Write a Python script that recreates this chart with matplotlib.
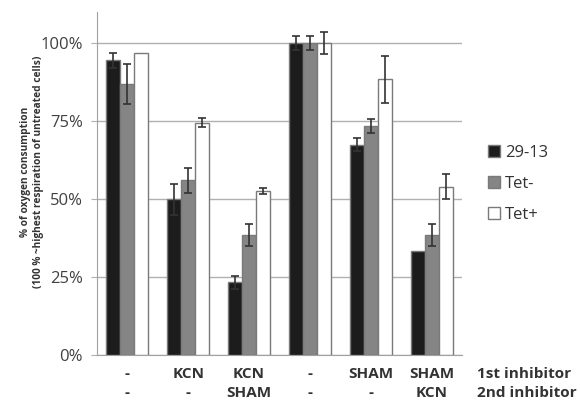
import numpy as np
import matplotlib.pyplot as plt
import matplotlib.transforms as mtransforms

plt.rcParams['font.family'] = ['Open Sans', 'DejaVu Sans']

first_inh = ['-', 'KCN', 'KCN', '-', 'SHAM', 'SHAM']
second_inh = ['-', '-', 'SHAM', '-', '-', 'KCN']
series = ['29-13', 'Tet-', 'Tet+']

v_2913 = [94.5, 50.0, 23.3, 100.0, 67.5, 33.5]
e_2913 = [2.3, 5.0, 2.0, 2.2, 2.0, 0.0]
v_tetm = [87.0, 56.0, 38.5, 100.0, 73.5, 38.5]
e_tetm = [6.5, 4.0, 3.5, 2.3, 2.3, 3.5]
v_tetp = [97.0, 74.5, 52.5, 100.0, 88.5, 54.0]
e_tetp = [0.0, 1.5, 1.0, 3.5, 7.5, 4.0]

fig = plt.figure(figsize=(5.8, 4.03), dpi=100)
ax = fig.add_axes([0.167, 0.119, 0.63, 0.851])

x = np.arange(len(first_inh))
w = 0.23
cols = ['#1c1c1c', '#858585', '#ffffff']
vals = [v_2913, v_tetm, v_tetp]
errs = [e_2913, e_tetm, e_tetp]
for i in range(3):
    ax.bar(x + (i - 1) * w, vals[i], w, color=cols[i], edgecolor='#7a7a7a',
           linewidth=1.0, label=series[i], zorder=3)
    e = np.array(errs[i])
    m = e > 0
    ax.errorbar((x + (i - 1) * w)[m], np.array(vals[i])[m], yerr=e[m], fmt='none',
                ecolor='#333333', elinewidth=1.2, capsize=3, capthick=1.2, zorder=4)

ax.set_xlim(-0.5, 5.5)
ax.set_ylim(0, 110)
ax.set_yticks([0, 25, 50, 75, 100])
ax.set_yticklabels(['0%', '25%', '50%', '75%', '100%'], fontsize=12, color='#404040')
ax.yaxis.grid(True, color='#b0b0b0', linewidth=1.0, zorder=0)
ax.tick_params(axis='y', length=4, color='#b0b0b0', pad=6)
ax.tick_params(axis='x', length=0, labelbottom=False)
for s in ['top', 'right']:
    ax.spines[s].set_visible(False)
ax.spines['left'].set_color('#a0a0a0')
ax.spines['bottom'].set_color('#a0a0a0')

trans = mtransforms.blended_transform_factory(ax.transData, ax.transAxes)
lab = dict(transform=trans, va='center', fontsize=11, fontweight='bold', color='#333333')
for i in range(len(first_inh)):
    ax.text(x[i], -0.055, first_inh[i], ha='center', **lab)
    ax.text(x[i], -0.111, second_inh[i], ha='center', **lab)
ax.text(5.75, -0.055, '1st inhibitor', ha='left', **lab)
ax.text(5.75, -0.111, '2nd inhibitor', ha='left', **lab)

ax.set_ylabel('% of oxygen consumption\n(100 % ~highest respiration of untreated cells)',
              fontsize=7.3, fontweight='bold', color='#333333', labelpad=5)
ax.yaxis.set_label_coords(-0.145, 0.535)

ax.legend(loc='center left', bbox_to_anchor=(1.03, 0.5), frameon=False, fontsize=12,
          handlelength=0.7, handleheight=0.7, handletextpad=0.3, labelspacing=0.9,
          labelcolor='#333333')

fig.savefig('out.png', dpi=100)
